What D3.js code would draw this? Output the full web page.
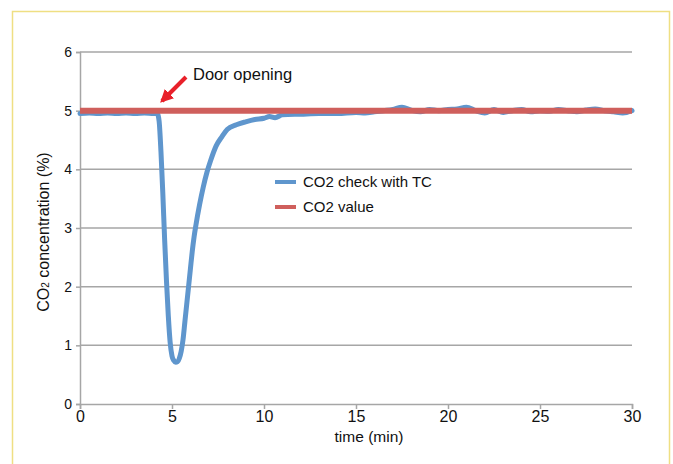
<!DOCTYPE html>
<html>
<head>
<meta charset="utf-8">
<script src="https://cdn.jsdelivr.net/npm/d3@7"></script>
<style>
  body { margin: 0; background: #fff; }
  svg text { font-family: "Liberation Sans", Arial, Helvetica, sans-serif; fill: #111; }
</style>
</head>
<body>
<svg width="673" height="464"></svg>
<script>
var timeMin = [0, 0.5, 1, 1.5, 2, 2.5, 3, 3.5, 4, 4.2, 4.3, 4.4, 4.5, 4.6, 4.7, 4.8, 4.9, 5.0, 5.1, 5.2, 5.3,
  5.4, 5.5, 5.6, 5.7, 5.8, 5.9, 6.0, 6.1, 6.2, 6.3, 6.5, 6.7, 6.9, 7.1, 7.4, 7.7, 8.0, 8.5, 9.0, 9.5,
  10, 10.3, 10.6, 11, 12, 13, 14, 15, 15.5, 16, 16.5, 17, 17.5, 18, 18.5, 19, 19.5, 20, 20.5, 21,
  21.5, 22, 22.5, 23, 23.5, 24, 24.5, 25, 25.5, 26, 26.5, 27, 27.5, 28, 28.5, 29, 29.5, 30];
var co2Check = [4.95, 4.96, 4.95, 4.96, 4.95, 4.96, 4.95, 4.96, 4.95, 4.95, 4.82, 4.3, 3.6, 2.8, 2.1, 1.5, 1.05, 0.82, 0.74, 0.71, 0.72,
  0.78, 0.9, 1.1, 1.4, 1.7, 2.0, 2.3, 2.6, 2.85, 3.05, 3.4, 3.7, 3.95, 4.15, 4.4, 4.55, 4.68, 4.76, 4.81, 4.85,
  4.87, 4.9, 4.88, 4.93, 4.94, 4.95, 4.95, 4.97, 4.96, 4.98, 5.0, 5.02, 5.06, 5.01, 4.98, 5.02, 5.0, 5.02, 5.03, 5.06,
  5.0, 4.96, 5.02, 4.97, 5.0, 5.02, 4.98, 5.0, 4.99, 5.02, 5.0, 4.98, 5.01, 5.03, 5.0, 4.98, 4.96, 5.0];
// set point
var setTime = [0, 30];
var setValue = [5, 5];

var seriesNames = ["CO2 check with TC", "CO2 value"];
var seriesColors = ["#5f96cd", "#cf5f5c"];
var xTicks = [0, 5, 10, 15, 20, 25, 30];
var yTicks = [0, 1, 2, 3, 4, 5, 6];

var svg = d3.select("svg");

// yellow frame
svg.append("rect")
    .attr("x", 12.5).attr("y", 11.5)
    .attr("width", 657).attr("height", 470)
    .attr("fill", "none")
    .attr("stroke", "#efdf83")
    .attr("stroke-width", 1.5);

var x = d3.scaleLinear().domain([0, 30]).range([80, 632]);
var y = d3.scaleLinear().domain([0, 6]).range([404, 52]);

// gridlines
svg.append("g")
    .selectAll("line")
    .data(yTicks.slice(1))
    .enter().append("line")
    .attr("x1", x(0)).attr("x2", x(30))
    .attr("y1", function(d) { return y(d); })
    .attr("y2", function(d) { return y(d); })
    .attr("stroke", "#a6a6a6")
    .attr("stroke-width", 1.5);

// axes
var yAxis = svg.append("g")
    .attr("transform", "translate(" + x(0) + ",0)")
    .call(d3.axisLeft(y).tickValues(yTicks).tickFormat(d3.format("d")).tickSize(4).tickPadding(4));
var xAxis = svg.append("g")
    .attr("transform", "translate(0," + y(0) + ")")
    .call(d3.axisBottom(x).tickValues(xTicks).tickFormat(d3.format("d")).tickSize(5).tickPadding(2));

[xAxis, yAxis].forEach(function(a) {
  a.select(".domain").attr("stroke", "#a6a6a6").attr("stroke-width", 1.5);
  a.selectAll(".tick line").attr("stroke", "#a6a6a6").attr("stroke-width", 1.5);
});
yAxis.selectAll(".tick text").attr("font-size", 14).attr("fill", "#111");
xAxis.selectAll(".tick text").attr("font-size", 16).attr("fill", "#111");

// lines
var line = d3.line()
    .x(function(d) { return x(d[0]); })
    .y(function(d) { return y(d[1]); })
    .curve(d3.curveMonotoneX);

svg.append("path")
    .datum(d3.zip(timeMin, co2Check))
    .attr("d", line)
    .attr("fill", "none")
    .attr("stroke", seriesColors[0])
    .attr("stroke-width", 5)
    .attr("stroke-linejoin", "round")
    .attr("stroke-linecap", "round");

svg.append("path")
    .datum(d3.zip(setTime, setValue))
    .attr("d", line)
    .attr("fill", "none")
    .attr("stroke", seriesColors[1])
    .attr("stroke-width", 6);

// legend
var legend = svg.append("g").attr("transform", "translate(275,182)");
seriesNames.forEach(function(name, i) {
  legend.append("line")
      .attr("x1", 0).attr("x2", 21)
      .attr("y1", i * 25).attr("y2", i * 25)
      .attr("stroke", seriesColors[i])
      .attr("stroke-width", 4);
  legend.append("text")
      .attr("x", 28).attr("y", i * 25 + 5)
      .attr("font-size", 15)
      .text(name);
});

// annotation
svg.append("defs").append("marker")
    .attr("id", "arrow")
    .attr("viewBox", "0 0 10 10")
    .attr("refX", 8).attr("refY", 5)
    .attr("markerWidth", 3.3).attr("markerHeight", 3.3)
    .attr("orient", "auto")
    .append("path")
    .attr("d", "M0,0 L10,5 L0,10 z")
    .attr("fill", "#e8202a");

svg.append("line")
    .attr("x1", 186).attr("y1", 77)
    .attr("x2", 162).attr("y2", 101)
    .attr("stroke", "#e8202a")
    .attr("stroke-width", 4)
    .attr("marker-end", "url(#arrow)");

svg.append("text")
    .attr("x", 193).attr("y", 80)
    .attr("font-size", 16.5)
    .text("Door opening");

// axis titles
svg.append("text")
    .attr("x", 369).attr("y", 442)
    .attr("text-anchor", "middle")
    .attr("font-size", 15.5)
    .text("time (min)");

svg.append("text")
    .attr("transform", "translate(49,232) rotate(-90)")
    .attr("text-anchor", "middle")
    .attr("font-size", 16)
    .html("CO<tspan font-size='10'>2</tspan> concentration (%)");
</script>
</body>
</html>
